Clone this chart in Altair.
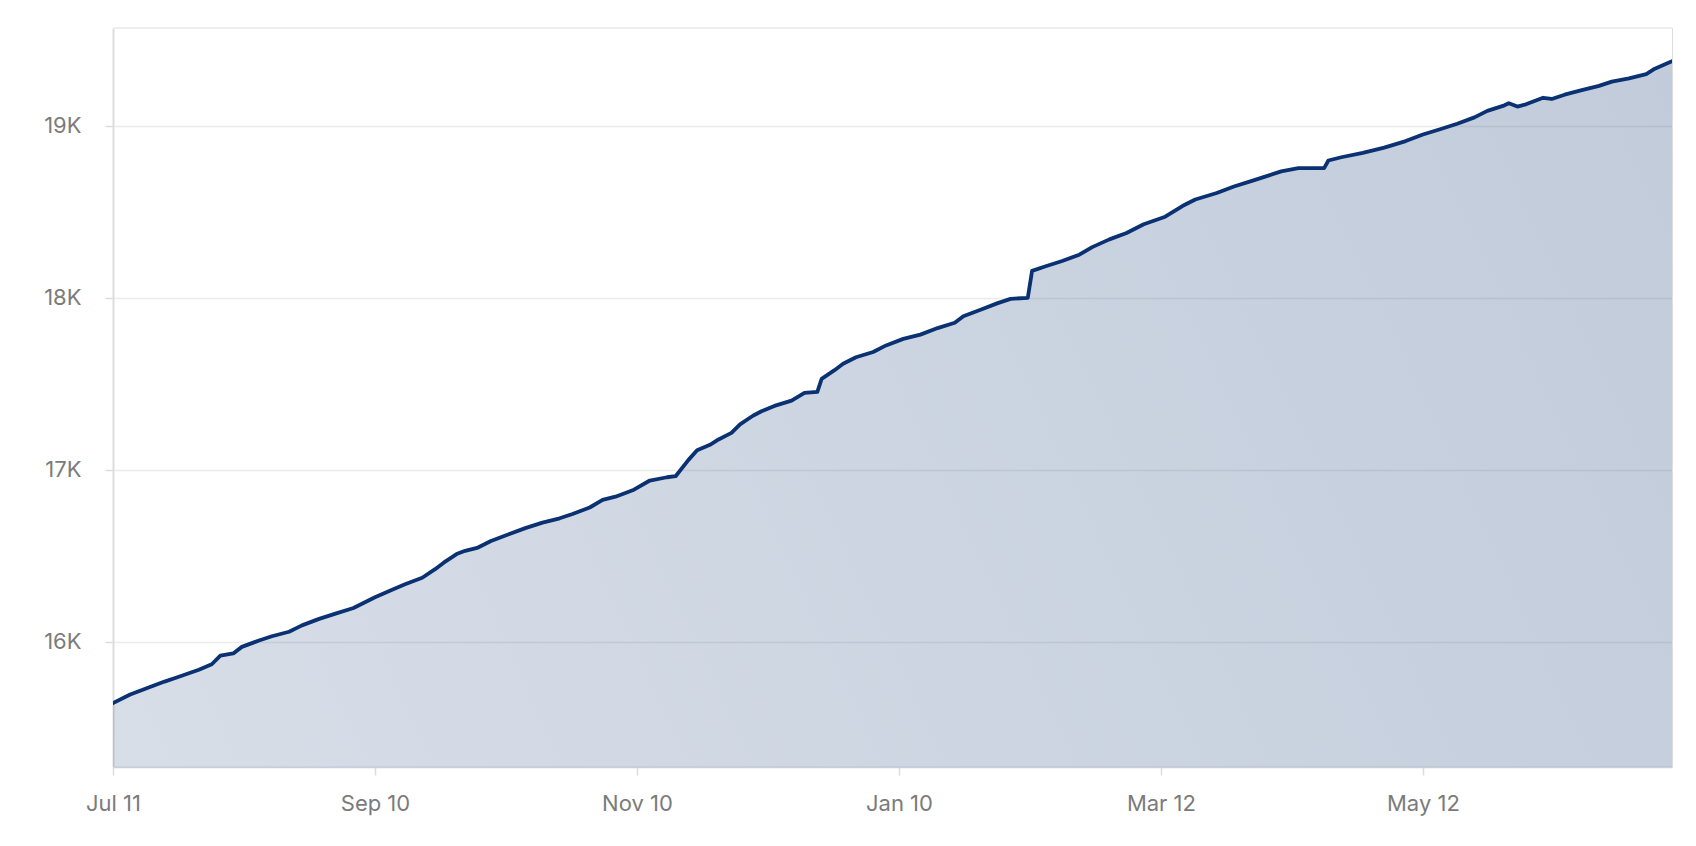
import altair as alt
import pandas as pd

# Dates (year inferred: non-leap Feb between Jan 10 and Mar 12)
dates = [
    "2022-07-11", "2022-07-15", "2022-07-19", "2022-07-23", "2022-07-26", "2022-07-29", "2022-07-31",
    "2022-08-03", "2022-08-05", "2022-08-08", "2022-08-10", "2022-08-14", "2022-08-17", "2022-08-21",
    "2022-08-24", "2022-08-28", "2022-09-01", "2022-09-05", "2022-09-10", "2022-09-14", "2022-09-17",
    "2022-09-21", "2022-09-24", "2022-09-26", "2022-09-29", "2022-10-01", "2022-10-04", "2022-10-07",
    "2022-10-11", "2022-10-15", "2022-10-19", "2022-10-23", "2022-10-26", "2022-10-30", "2022-11-02",
    "2022-11-05", "2022-11-09", "2022-11-13", "2022-11-17", "2022-11-19", "2022-11-22", "2022-11-24",
    "2022-11-27", "2022-11-29", "2022-12-02", "2022-12-04", "2022-12-07", "2022-12-09", "2022-12-12",
    "2022-12-16", "2022-12-19", "2022-12-22", "2022-12-23", "2022-12-26", "2022-12-28", "2022-12-31",
    "2023-01-04", "2023-01-07", "2023-01-11", "2023-01-15", "2023-01-19", "2023-01-23", "2023-01-25",
    "2023-01-29", "2023-02-02", "2023-02-05", "2023-02-09", "2023-02-10", "2023-02-13", "2023-02-17",
    "2023-02-21", "2023-02-24", "2023-02-28", "2023-03-04", "2023-03-08", "2023-03-13", "2023-03-17",
    "2023-03-20", "2023-03-25", "2023-03-29", "2023-04-02", "2023-04-06", "2023-04-09", "2023-04-13",
    "2023-04-19", "2023-04-20", "2023-04-23", "2023-04-28", "2023-05-03", "2023-05-08", "2023-05-12",
    "2023-05-16", "2023-05-20", "2023-05-24", "2023-05-27", "2023-05-31", "2023-06-01", "2023-06-03",
    "2023-06-05", "2023-06-09", "2023-06-11", "2023-06-14", "2023-06-18", "2023-06-22", "2023-06-25",
    "2023-06-29", "2023-07-03", "2023-07-05", "2023-07-09",
]

values = [
    15642, 15692, 15730, 15767, 15792, 15818, 15836,
    15868, 15918, 15931, 15969, 16006, 16031, 16057,
    16094, 16132, 16164, 16195, 16258, 16302, 16333,
    16371, 16421, 16459, 16509, 16528, 16547, 16585,
    16623, 16660, 16692, 16717, 16742, 16780, 16824,
    16843, 16880, 16937, 16956, 16962, 17057, 17113,
    17145, 17176, 17214, 17264, 17314, 17340, 17371,
    17402, 17447, 17453, 17528, 17579, 17616, 17654,
    17685, 17723, 17761, 17786, 17824, 17855, 17893,
    17931, 17969, 17994, 18000, 18157, 18182, 18214,
    18251, 18295, 18340, 18377, 18428, 18472, 18534,
    18572, 18610, 18648, 18679, 18711, 18736, 18755,
    18755, 18799, 18818, 18843, 18874, 18912, 18950,
    18981, 19013, 19050, 19088, 19120, 19132, 19113,
    19126, 19164, 19157, 19182, 19208, 19233, 19258,
    19277, 19302, 19333, 19377,
]

x_tick_dates = ["2022-07-11", "2022-09-10", "2022-11-10", "2023-01-10", "2023-03-12", "2023-05-12"]
y_tick_values = [16000, 17000, 18000, 19000]
x_domain = ["2022-07-11", "2023-07-09"]
y_domain = [15270, 19570]


def to_dt(s):
    y, m, d = (int(p) for p in s.split("-"))
    return alt.DateTime(year=y, month=m, date=d, utc=True)


df = pd.DataFrame({"date": dates, "value": values})

W, H = 1559, 739
LINE = "#0a3172"
FONT = "Inter"
LABEL = "#7b7b7b"

gradient = alt.Gradient(
    gradient="linear",
    stops=[
        alt.GradientStop(color="rgba(11,51,112,0.15)", offset=0),
        alt.GradientStop(color="rgba(11,51,112,0.36)", offset=1),
    ],
    x1=0, y1=1, x2=1, y2=0,
)

x_enc = alt.X(
    "date:T",
    scale=alt.Scale(type="utc", domain=[to_dt(s) for s in x_domain]),
    axis=alt.Axis(
        values=[to_dt(s) for s in x_tick_dates],
        labelExpr="utcFormat(datum.value, '%b %d')",
        title=None,
        grid=False,
        domainColor="#c9ced8",
        domainWidth=1.5,
        tickColor="#dddddd",
        tickSize=8,
        tickWidth=1.5,
        labelFont=FONT,
        labelFontSize=22,
        labelColor=LABEL,
        labelPadding=18,
        labelFlush=False,
    ),
)

y_enc = alt.Y(
    "value:Q",
    scale=alt.Scale(domain=y_domain, nice=False, zero=False),
    axis=alt.Axis(
        values=y_tick_values,
        labelExpr="datum.value / 1000 + 'K'",
        title=None,
        grid=True,
        gridColor="#ececec",
        gridWidth=1.5,
        domainColor="#dddddd",
        domainWidth=2,
        tickColor="#dddddd",
        tickSize=8,
        tickWidth=1.5,
        labelFont=FONT,
        labelFontSize=22,
        labelColor=LABEL,
        labelPadding=24,
    ),
)

area = alt.Chart(df).mark_area(
    color=gradient,
    line=alt.OverlayMarkDef(color=LINE, strokeWidth=3.8, strokeJoin="round", strokeCap="round"),
    clip=True,
).encode(x=x_enc, y=y_enc)

top_border = alt.Chart(df).mark_rule(color="#eeeeee", strokeWidth=2).encode(
    x=alt.value(0), x2=alt.value(W), y=alt.value(0)
)

chart = alt.layer(area, top_border).properties(
    width=W,
    height=H,
    padding={"left": 105, "top": 20, "right": 16, "bottom": 60},
    autosize=alt.AutoSizeParams(type="none"),
).configure_view(stroke=None).configure(background="white")

chart.save("out.html", embed_options={"renderer": "svg", "actions": False})
